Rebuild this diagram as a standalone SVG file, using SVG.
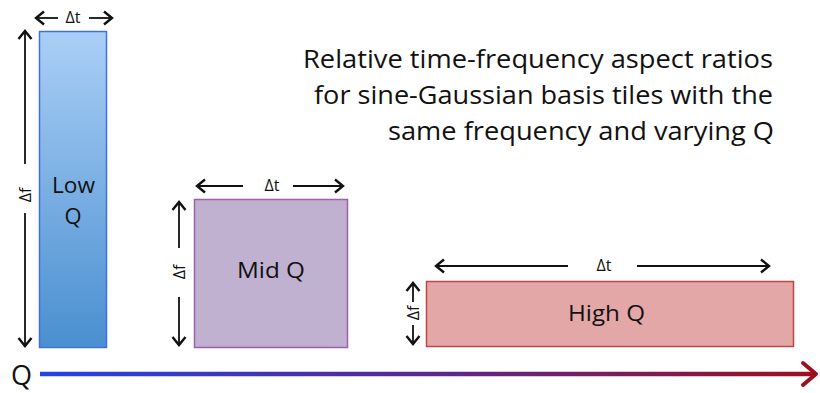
<svg xmlns="http://www.w3.org/2000/svg" width="820" height="393" viewBox="0 0 820 393">
<defs>
<style>
.lbl{font-family:"Open Sans",Lato,"Liberation Sans",sans-serif;fill:#111}
.dim{font-family:"Open Sans",Lato,"Liberation Sans",sans-serif;font-size:16px;fill:#111}
.arr{stroke:#111;stroke-width:1.8;fill:none;marker-end:url(#ch)}
</style>
<marker id="ch" viewBox="0 0 14 16" refX="12" refY="8" markerWidth="14" markerHeight="16" markerUnits="userSpaceOnUse" orient="auto">
<path d="M4,1.5 L12,8 L4,14.5" fill="none" stroke="#111" stroke-width="2.4"/>
</marker>
<linearGradient id="gLow" x1="0" y1="0" x2="0" y2="1">
<stop offset="0" stop-color="#aacff6"/>
<stop offset="1" stop-color="#4a8fd0"/>
</linearGradient>
<linearGradient id="gAxis" gradientUnits="userSpaceOnUse" x1="40" y1="0" x2="818" y2="0">
<stop offset="0" stop-color="#2244e6"/>
<stop offset="0.5" stop-color="#5a2790"/>
<stop offset="1" stop-color="#9c1020"/>
</linearGradient>
</defs>

<g id="title">
<text class="lbl" font-size="25" x="303" y="68" textLength="470" lengthAdjust="spacingAndGlyphs">Relative time-frequency aspect ratios</text>
<text class="lbl" font-size="25" x="314" y="104" textLength="459" lengthAdjust="spacingAndGlyphs">for sine-Gaussian basis tiles with the</text>
<text class="lbl" font-size="25" x="388" y="140" textLength="386" lengthAdjust="spacingAndGlyphs">same frequency and varying Q</text>
</g>

<g id="low-q">
<rect x="39.5" y="31.5" width="67" height="316" fill="url(#gLow)" stroke="#3f6fe6" stroke-width="1.5"/>
<text class="lbl" font-size="22" x="52" y="193" textLength="43" lengthAdjust="spacingAndGlyphs">Low</text>
<text class="lbl" font-size="22" text-anchor="middle" x="73" y="224">Q</text>
</g>

<g id="mid-q">
<rect x="194.5" y="199.5" width="153" height="148" fill="#c1b1d1" stroke="#a35eab" stroke-width="1.5"/>
<text class="lbl" font-size="22" x="237" y="278" textLength="68" lengthAdjust="spacingAndGlyphs">Mid Q</text>
</g>

<g id="high-q">
<rect x="426.5" y="281.5" width="367" height="65" fill="#e4a7a7" stroke="#c04646" stroke-width="1.5"/>
<text class="lbl" font-size="22" x="568" y="321" textLength="77" lengthAdjust="spacingAndGlyphs">High Q</text>
</g>

<g id="dimensions">
<line class="arr" x1="58" y1="18" x2="36" y2="18"/>
<line class="arr" x1="89" y1="18" x2="112" y2="18"/>
<text class="dim" text-anchor="middle" x="73" y="23">Δt</text>
<line class="arr" x1="25" y1="164" x2="25" y2="31"/>
<line class="arr" x1="25" y1="213" x2="25" y2="346"/>
<text class="dim" text-anchor="middle" transform="translate(31,195) rotate(-90)">Δf</text>

<line class="arr" x1="243" y1="186" x2="197" y2="186"/>
<line class="arr" x1="293" y1="186" x2="343" y2="186"/>
<text class="dim" text-anchor="middle" x="272" y="191">Δt</text>
<line class="arr" x1="179" y1="248" x2="179" y2="202"/>
<line class="arr" x1="179" y1="297" x2="179" y2="345"/>
<text class="dim" text-anchor="middle" transform="translate(185,272) rotate(-90)">Δf</text>

<line class="arr" x1="568" y1="266" x2="436" y2="266"/>
<line class="arr" x1="637" y1="266" x2="769" y2="266"/>
<text class="dim" text-anchor="middle" x="604" y="271">Δt</text>
<line class="arr" x1="413" y1="302" x2="413" y2="283"/>
<line class="arr" x1="413" y1="325" x2="413" y2="344"/>
<text class="dim" text-anchor="middle" transform="translate(419,313) rotate(-90)">Δf</text>
</g>

<g id="connectors">
<line x1="40" y1="374" x2="816" y2="374" stroke="url(#gAxis)" stroke-width="4.5"/>
<path d="M803,363 L816,374 L803,385" fill="none" stroke="#9c1020" stroke-width="4" stroke-linecap="round" stroke-linejoin="round"/>
<text class="lbl" font-size="27" x="11" y="385">Q</text>
</g>
</svg>
